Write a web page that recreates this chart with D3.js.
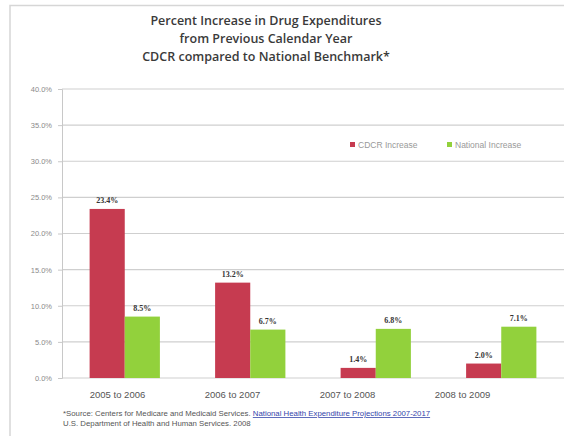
<!DOCTYPE html>
<html>
<head>
<meta charset="utf-8">
<script src="https://cdn.jsdelivr.net/npm/d3@7"></script>
<style>
  body { margin: 0; background: #fff; }
  svg { display: block; }
</style>
</head>
<body>
<svg id="chart" width="564" height="436"></svg>
<script>
// data
var periods = ["2005 to 2006", "2006 to 2007", "2007 to 2008", "2008 to 2009"];
var seriesNames = ["CDCR Increase", "National Increase"];
var cdcr = [23.4, 13.2, 1.4, 2.0];
var national = [8.5, 6.7, 6.8, 7.1];
var yTicks = [0, 5, 10, 15, 20, 25, 30, 35, 40];
var titleLines = ["Percent Increase in Drug Expenditures", "from Previous  Calendar Year", "CDCR compared to National Benchmark*"];

var colors = ["#c63b50", "#92d13c"];

var svg = d3.select("#chart");

// outer frame
svg.append("path")
  .attr("d", "M10,436 L10,5.5 L564,5.5")
  .attr("fill", "none")
  .attr("stroke", "#d6d6d6")
  .attr("stroke-width", 1.5);

var margin = {left: 62, right: 0, top: 89, bottom: 58},
    width = 564 - margin.left - margin.right,
    height = 436 - margin.top - margin.bottom;

var g = svg.append("g").attr("transform", "translate(" + margin.left + "," + margin.top + ")");

var x = d3.scaleBand().domain(periods).range([0, width]).paddingInner(0.44).paddingOuter(0.22);
var x1 = d3.scaleBand().domain(seriesNames).range([0, x.bandwidth()]);
var y = d3.scaleLinear().domain([0, 40]).range([height, 0]);

// gridlines
g.selectAll(".grid").data(yTicks).enter().append("line")
  .attr("x1", 0).attr("x2", width)
  .attr("y1", function(d){ return y(d); }).attr("y2", function(d){ return y(d); })
  .attr("stroke", "#cfcfcf").attr("stroke-width", 1.2);

// y axis
var yAxis = g.append("g")
  .call(d3.axisLeft(y).tickValues(yTicks).tickSize(4).tickFormat(function(d){ return d3.format(".1f")(d) + "%"; }));
yAxis.select(".domain").attr("stroke", "#c8c8c8");
yAxis.selectAll(".tick line").attr("stroke", "#c8c8c8");
yAxis.selectAll("text")
  .attr("x", -10)
  .attr("fill", "#8a8a8a")
  .style("font-family", "Liberation Sans, Arial, sans-serif")
  .style("font-size", "7.5px");

// bars
var rows = periods.map(function(p, i){ return {period: p, values: [cdcr[i], national[i]]}; });
var groups = g.selectAll(".grp").data(rows).enter().append("g")
  .attr("transform", function(d){ return "translate(" + x(d.period) + ",0)"; });

groups.selectAll("rect").data(function(d){ return d.values.map(function(v, k){ return {name: seriesNames[k], v: v, k: k}; }); })
  .enter().append("rect")
  .attr("x", function(d){ return x1(d.name); })
  .attr("width", x1.bandwidth())
  .attr("y", function(d){ return y(d.v); })
  .attr("height", function(d){ return height - y(d.v); })
  .attr("fill", function(d){ return colors[d.k]; });

groups.selectAll(".lbl").data(function(d){ return d.values.map(function(v, k){ return {name: seriesNames[k], v: v, k: k}; }); })
  .enter().append("text")
  .attr("x", function(d){ return x1(d.name) + x1.bandwidth() / 2; })
  .attr("y", function(d){ return y(d.v) - 6; })
  .attr("text-anchor", "middle")
  .attr("fill", "#333")
  .style("font-family", "Liberation Serif, Times New Roman, serif")
  .style("font-weight", "bold")
  .style("font-size", "8px")
  .text(function(d){ return d3.format(".1f")(d.v) + "%"; });

// x labels (the category labels in the picture sit a bit left of the bar groups)
var xl = d3.scalePoint().domain(periods).range([117 - margin.left, 462 - margin.left]);
var xAxis = g.append("g")
  .attr("transform", "translate(0," + height + ")")
  .call(d3.axisBottom(xl).tickSize(0).tickPadding(13));
xAxis.select(".domain").remove();
xAxis.selectAll("text")
  .attr("fill", "#555")
  .style("font-family", "Liberation Sans, Arial, sans-serif")
  .style("font-size", "9.5px");

// legend
var legend = svg.append("g").attr("transform", "translate(350,145)");
var lx = [0, 97];
seriesNames.forEach(function(n, i){
  legend.append("rect").attr("x", lx[i]).attr("y", -3).attr("width", 5).attr("height", 5).attr("fill", colors[i]);
  legend.append("text").attr("x", lx[i] + 8).attr("y", 2.5)
    .attr("fill", "#999")
    .style("font-family", "Liberation Sans, Arial, sans-serif")
    .style("font-size", "8.5px")
    .text(n);
});

// title
svg.append("g").selectAll("text").data(titleLines).enter().append("text")
  .attr("x", 266)
  .attr("y", function(d, i){ return 25 + i * 18; })
  .attr("text-anchor", "middle")
  .attr("fill", "#3a3a3a")
  .style("font-family", "Open Sans, Liberation Sans, sans-serif")
  .style("font-weight", "600")
  .style("font-size", "12.5px")
  .text(function(d){ return d; });

// footnote
var foot = svg.append("text").attr("x", 63).attr("y", 416)
  .attr("fill", "#555")
  .style("font-family", "Liberation Sans, Arial, sans-serif")
  .style("font-size", "7.8px");
foot.append("tspan").text("*Source: Centers for Medicare and Medicaid Services. ");
foot.append("tspan").attr("fill", "#3344aa").attr("text-decoration", "underline").text("National Health Expenditure Projections 2007-2017");
svg.append("text").attr("x", 63).attr("y", 426)
  .attr("fill", "#555")
  .style("font-family", "Liberation Sans, Arial, sans-serif")
  .style("font-size", "7.8px")
  .text("U.S. Department of Health and Human Services. 2008");
</script>
</body>
</html>
